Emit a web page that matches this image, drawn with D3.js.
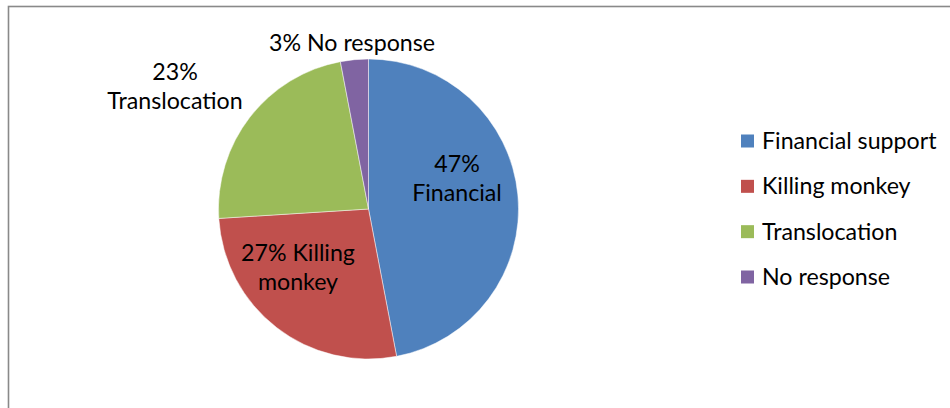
<!DOCTYPE html>
<html>
<head>
<meta charset="utf-8">
<script src="https://cdn.jsdelivr.net/npm/d3@7"></script>
<style>
  body { margin: 0; background: #fff; }
  svg { display: block; font-family: Lato, "Open Sans", sans-serif; }
</style>
</head>
<body>
<svg id="chart" width="950" height="408"></svg>
<script>
let width = 950,
  height = 408

// data
let categories = ["Financial support", "Killing monkey", "Translocation", "No response"]
let values = [47, 27, 23, 3]
let colors = ["#4F81BD", "#C0504D", "#9BBB59", "#8064A2"]
// slice labels (lines) and where they sit
let sliceLabels = [
  ["47%", "Financial"],
  ["27% Killing", "monkey"],
  ["23%", "Translocation"],
  ["3% No response"]
]
let labelPos = [[457, 178], [298, 267], [175, 86], [352, 43]]

let cx = 368.5, cy = 209, r = 150
let fontSize = 23.2

let svg = d3.select("#chart")

// chart frame, runs off the right and bottom edges
svg.append("rect")
  .attr("x", 8.5)
  .attr("y", 6.5)
  .attr("width", 980)
  .attr("height", 440)
  .attr("fill", "none")
  .attr("stroke", "#898989")
  .attr("stroke-width", 1.6)

let pie = d3.pie()
  .sort(null)
  .value(d => d)

let arc = d3.arc()
  .innerRadius(0)
  .outerRadius(r)

let g = svg.append("g")
  .attr("transform", `translate(${cx},${cy})`)

g.selectAll("path")
  .data(pie(values))
  .enter()
  .append("path")
  .attr("d", arc)
  .attr("fill", (d, i) => colors[i])
  .attr("stroke", "rgba(255,255,255,0.6)")
  .attr("stroke-width", 0.8)

let lineH = 29
svg.selectAll("text.lbl")
  .data(sliceLabels)
  .enter()
  .append("text")
  .attr("class", "lbl")
  .attr("text-anchor", "middle")
  .attr("font-size", fontSize)
  .attr("fill", "#000")
  .each(function (lines, i) {
    let t = d3.select(this)
    let y0 = labelPos[i][1] - (lines.length - 1) * lineH / 2
    lines.forEach((s, j) => {
      t.append("tspan")
        .attr("x", labelPos[i][0])
        .attr("y", y0 + j * lineH)
        .attr("dy", "0.35em")
        .text(s)
    })
  })

// legend
let legendY = d3.scalePoint()
  .domain(categories)
  .range([141, 277])

let legend = svg.append("g")
legend.selectAll("rect")
  .data(categories)
  .enter()
  .append("rect")
  .attr("x", 741)
  .attr("y", d => legendY(d) - 6.5)
  .attr("width", 13)
  .attr("height", 13)
  .attr("fill", (d, i) => colors[i])

legend.selectAll("text")
  .data(categories)
  .enter()
  .append("text")
  .attr("x", 762)
  .attr("y", d => legendY(d))
  .attr("dy", "0.35em")
  .attr("font-size", fontSize)
  .attr("fill", "#000")
  .text(d => d)
</script>
</body>
</html>
